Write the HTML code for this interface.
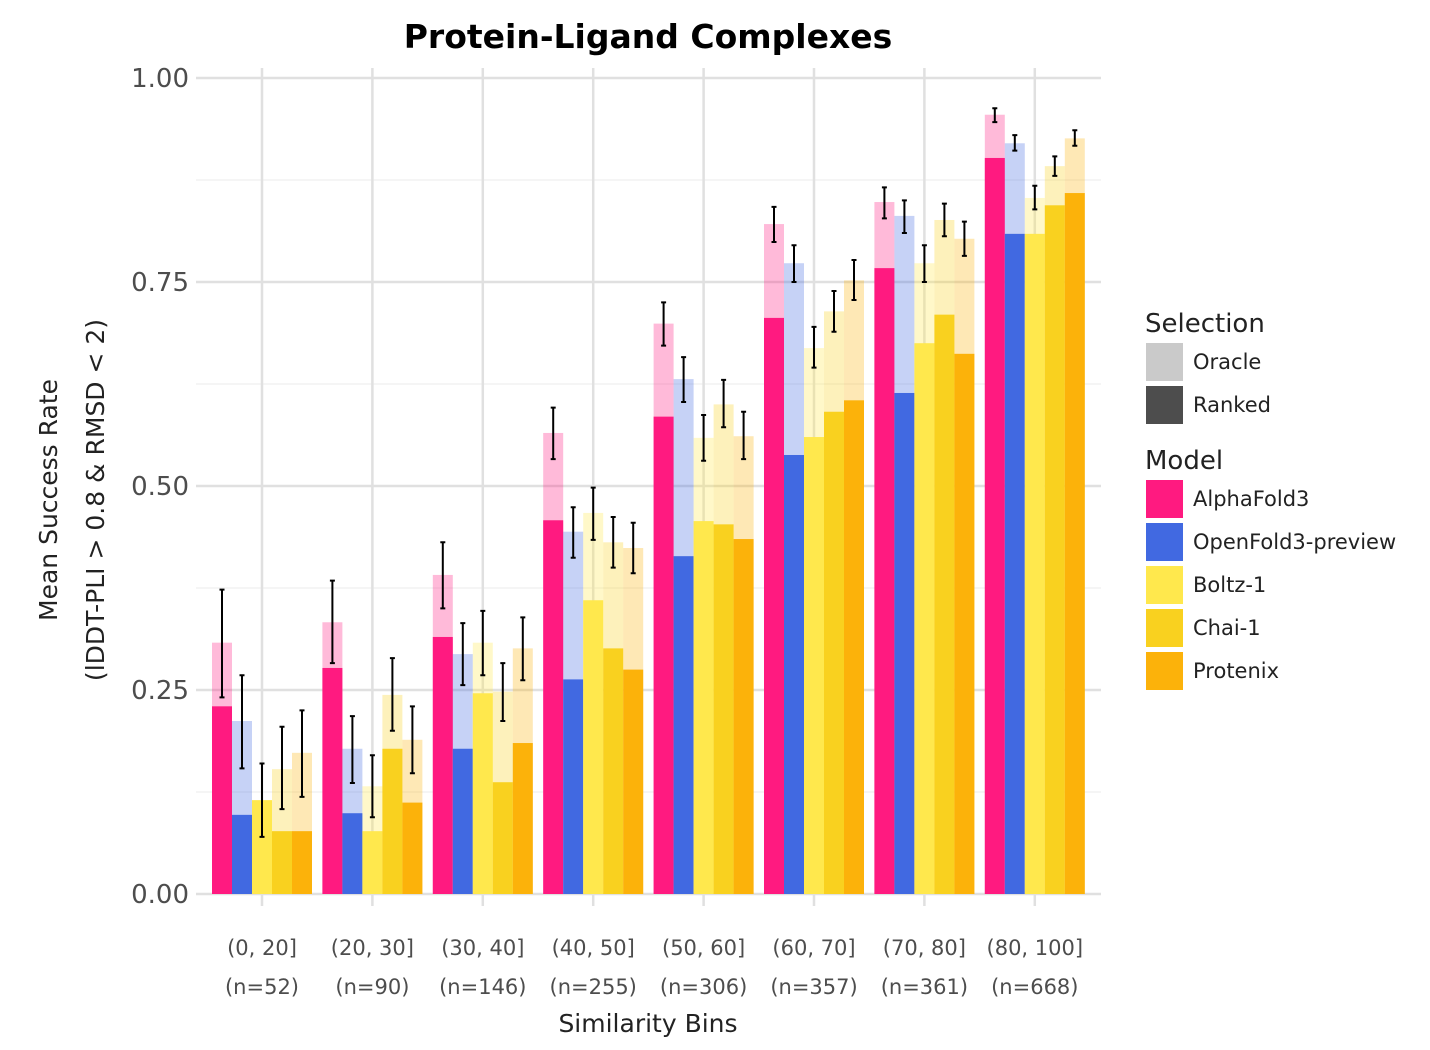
<!DOCTYPE html>
<html><head><meta charset="utf-8"><style>
body{margin:0;background:#fff;}
svg{display:block;font-family:"DejaVu Sans","Liberation Sans",sans-serif;}
</style></head><body>
<svg id="chart" width="1430" height="1050" viewBox="0 0 1430 1050">
<text x="648" y="48" text-anchor="middle" font-size="33" font-weight="bold">Protein-Ligand Complexes</text>
<g id="grid"></g>
<g id="bars"></g>
<g id="errs"></g>
<g id="axes"></g>
<text x="648" y="1032" text-anchor="middle" font-size="25" fill="#222">Similarity Bins</text>
<text transform="translate(57,500) rotate(-90)" text-anchor="middle" font-size="25" fill="#222">Mean Success Rate</text>
<text transform="translate(104,500) rotate(-90)" text-anchor="middle" font-size="25" fill="#222">(lDDT-PLI &gt; 0.8 &amp; RMSD &lt; 2)</text>
<g id="legend"></g>
</svg>
<script>
const categories=["(0, 20]","(20, 30]","(30, 40]","(40, 50]","(50, 60]","(60, 70]","(70, 80]","(80, 100]"];
const counts=["(n=52)","(n=90)","(n=146)","(n=255)","(n=306)","(n=357)","(n=361)","(n=668)"];
const models=["AlphaFold3","OpenFold3-preview","Boltz-1","Chai-1","Protenix"];
const colors=["#FF1A80","#4169E1","#FFE84D","#F9D11F","#FCB20A"];
const oracle=[
[0.308,0.212,0.115,0.153,0.173],
[0.333,0.178,0.132,0.244,0.189],
[0.391,0.294,0.308,0.248,0.301],
[0.565,0.444,0.467,0.431,0.424],
[0.699,0.631,0.559,0.600,0.561],
[0.821,0.773,0.669,0.714,0.752],
[0.848,0.831,0.773,0.826,0.803],
[0.955,0.920,0.853,0.892,0.926]];
const ranked=[
[0.230,0.097,0.115,0.077,0.077],
[0.277,0.099,0.077,0.178,0.112],
[0.315,0.178,0.246,0.137,0.185],
[0.458,0.263,0.360,0.301,0.275],
[0.585,0.414,0.457,0.453,0.435],
[0.706,0.538,0.560,0.591,0.605],
[0.767,0.614,0.675,0.710,0.662],
[0.902,0.809,0.809,0.844,0.859]];
const errLo=[
[0.241,0.154,0.070,0.104,0.119],
[0.283,0.136,0.094,0.200,0.148],
[0.350,0.256,0.268,0.212,0.262],
[0.533,0.412,0.434,0.400,0.393],
[0.672,0.603,0.531,0.572,0.533],
[0.799,0.750,0.645,0.689,0.728],
[0.828,0.810,0.750,0.806,0.782],
[0.946,0.911,0.839,0.880,0.917]];
const errHi=[
[0.373,0.268,0.160,0.205,0.225],
[0.384,0.218,0.170,0.289,0.230],
[0.431,0.332,0.347,0.283,0.339],
[0.596,0.474,0.498,0.462,0.455],
[0.725,0.658,0.587,0.630,0.591],
[0.842,0.795,0.695,0.739,0.777],
[0.866,0.850,0.795,0.846,0.824],
[0.963,0.930,0.868,0.904,0.936]];
const yTicks=[0,0.25,0.5,0.75,1.0];
const yTickLabels=["0.00","0.25","0.50","0.75","1.00"];

const NS="http://www.w3.org/2000/svg";
const y=v=>894-v*816;
const x0=262, step=110.4, bw=20;
const x=i=>x0+i*step;
function mk(tag,attrs,parent){const e=document.createElementNS(NS,tag);for(const k in attrs)e.setAttribute(k,attrs[k]);parent.appendChild(e);return e;}
const grid=document.getElementById('grid'),bars=document.getElementById('bars'),errs=document.getElementById('errs'),axes=document.getElementById('axes'),legend=document.getElementById('legend');
for(let k=0;k<4;k++){const v=0.125+k*0.25;const l=mk('line',{x1:196,x2:1101,y1:y(v),y2:y(v),stroke:'#f2f2f2','stroke-width':1.5},grid);

}
yTicks.forEach((v,i)=>{const l=mk('line',{x1:196,x2:1101,y1:y(v),y2:y(v),stroke:'#e0e0e0','stroke-width':2.5},grid);


const t=mk('text',{x:189,y:y(v)+9,'text-anchor':'end','font-size':26,fill:'#4d4d4d'},axes);t.textContent=yTickLabels[i];

});
categories.forEach((c,i)=>{const l=mk('line',{x1:x(i),x2:x(i),y1:68,y2:906,stroke:'#e0e0e0','stroke-width':2.5},grid);


const t=mk('text',{x:x(i),y:955,'text-anchor':'middle','font-size':21,fill:'#4d4d4d'},axes);t.textContent=c;


const t2=mk('text',{x:x(i),y:994,'text-anchor':'middle','font-size':21,fill:'#4d4d4d'},axes);t2.textContent=counts[i];


models.forEach((m,j)=>{const bx=x(i)-50+j*bw;
const o=mk('rect',{x:bx,y:y(oracle[i][j]),width:bw,height:894-y(oracle[i][j]),fill:colors[j],'fill-opacity':0.3},bars);


const r=mk('rect',{x:bx,y:y(ranked[i][j]),width:bw,height:894-y(ranked[i][j]),fill:colors[j]},bars);


const cx=bx+bw/2;
const e=mk('path',{d:`M${cx-2.5},${y(errHi[i][j])}H${cx+2.5}M${cx},${y(errHi[i][j])}V${y(errLo[i][j])}M${cx-2.5},${y(errLo[i][j])}H${cx+2.5}`,stroke:'#000','stroke-width':2,fill:'none'},errs);

});});
function ltitle(txt,yy){const t=mk('text',{x:1145,y:yy,'font-size':26,fill:'#222'},legend);t.textContent=txt;

}
function lentry(txt,col,yy){const r=mk('rect',{x:1146,y:yy,width:37,height:38,fill:col},legend);


const t=mk('text',{x:1193,y:yy+26,'font-size':21,fill:'#222'},legend);t.textContent=txt;

}
ltitle('Selection',332);
lentry('Oracle','#cacaca',343);
lentry('Ranked','#4d4d4d',386);
ltitle('Model',469);
models.forEach((m,j)=>lentry(m,colors[j],480+j*43));
</script>
</body></html>
